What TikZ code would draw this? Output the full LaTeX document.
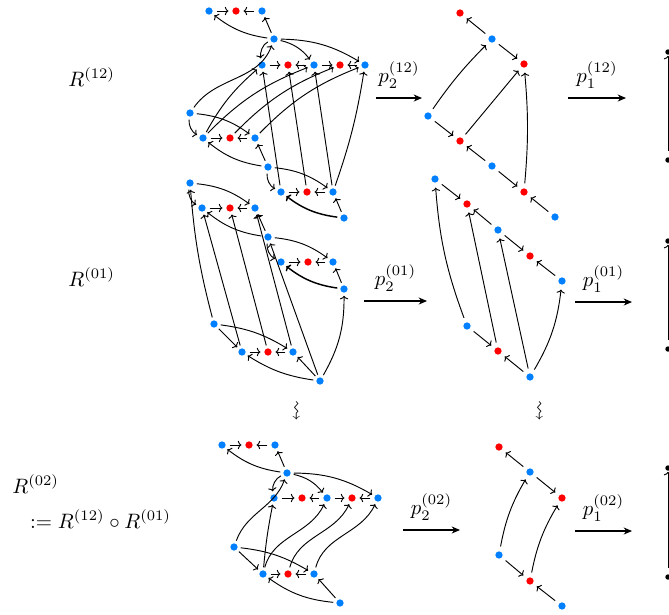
\documentclass[tikz,border=0pt]{standalone}
\usepackage{amsmath,amssymb}
\usetikzlibrary{arrows.meta}
\definecolor{myblue}{RGB}{0,128,255}
\definecolor{myred}{RGB}{255,0,0}
\tikzset{
 bv/.style={circle,fill=myblue,inner sep=0pt,minimum size=3.5pt},
 rv/.style={circle,fill=myred,inner sep=0pt,minimum size=3.5pt},
 kv/.style={circle,fill=black,inner sep=0pt,minimum size=2.6pt},
 ar/.style={-{To[length=1.7pt,width=4pt]}, line width=0.45pt, shorten >=1.3pt, shorten <=1.3pt},
 rar/.style={ar, shorten >=1.7pt, shorten <=1.7pt},
 dar/.style={ar, shorten >=2.2pt, shorten <=2.2pt},
 par/.style={-{Stealth[length=4pt,width=3.4pt]}, line width=0.5pt},
 lab/.style={inner sep=0pt, anchor=base west},
}
\begin{document}
\begin{tikzpicture}[x=0.48pt,y=-0.48pt]
\useasboundingbox (0,0) rectangle (669,614);
% ---------- R12 left ----------
\node[bv] (A1) at (209,11) {};
\node[rv] (A2) at (236,11) {};
\node[bv] (A3) at (262,11) {};
\node[bv] (B) at (274,39) {};
\node[bv] (C1) at (262,65) {};
\node[rv] (C2) at (288,65) {};
\node[bv] (C3) at (314,65) {};
\node[rv] (C4) at (340,65) {};
\node[bv] (C5) at (365,65) {};
\node[bv] (D) at (190,113) {};
\node[bv] (E1) at (203,138) {};
\node[rv] (E2) at (230,138) {};
\node[bv] (E3) at (255,138) {};
\node[bv] (F) at (268,167) {};
\node[bv] (G1) at (281,192) {};
\node[rv] (G2) at (307,192) {};
\node[bv] (G3) at (333,192) {};
\node[bv] (H) at (344,218) {};
\draw[rar] (A1)--(A2);
\draw[rar] (A3)--(A2);
\draw[ar] (B) to[bend left=15] (A1);
\draw[ar] (B)--(A3);
\draw[ar] (B) to[out=205,in=100] (C1);
\draw[ar] (D) to[out=55,in=250] (B);
\draw[ar] (B) to[bend left=20] (C3);
\draw[ar] (B) to[bend left=15] (C5);
\draw[rar] (C1)--(C2);
\draw[rar] (C3)--(C2);
\draw[rar] (C3)--(C4);
\draw[rar] (C5)--(C4);
\draw[ar] (D) to[bend right=35] (E1);
\draw[ar] (D) to[bend left=15] (E3);
\draw[rar] (E1)--(E2);
\draw[rar] (E3)--(E2);
\draw[ar] (F)--(E3);
\draw[ar] (F) to[bend left=15] (E1);
\draw[ar] (F) to[bend right=35] (G1);
\draw[ar] (F) to[bend left=15] (G3);
\draw[rar] (G1)--(G2);
\draw[rar] (G3)--(G2);
\draw[ar] (H)--(G3);
\draw[ar,line width=0.7pt] (H) to[bend left=15] (G1);
\draw[ar] (E1) to[bend left=10] (C1);
\draw[ar] (E1) to[bend left=12] (C3);
\draw[ar] (E2) to[bend left=12] (C4);
\draw[ar] (E3) to[bend left=12] (C5);
\draw[ar] (G1)--(C1);
\draw[ar] (G2)--(C2);
\draw[ar] (G3)--(C3);
\draw[ar] (G3) to[bend right=5] (C5);
% ---------- R12 middle ----------
\node[rv] (m1) at (460,13) {};
\node[bv] (m2) at (492,39) {};
\node[rv] (m3) at (524,64) {};
\node[bv] (m4) at (428,116) {};
\node[rv] (m5) at (460,141) {};
\node[bv] (m6) at (492,166) {};
\node[rv] (m7) at (524,192) {};
\node[bv] (m8) at (555,217) {};
\draw[dar] (m2)--(m1);
\draw[dar] (m2)--(m3);
\draw[dar] (m4) to[bend left=5] (m2);
\draw[dar] (m4)--(m5);
\draw[dar] (m5)--(m3);
\draw[dar] (m6)--(m5);
\draw[dar] (m6)--(m7);
\draw[dar] (m7) to[bend right=5] (m3);
\draw[dar] (m8)--(m7);
% ---------- R01 left ----------
\node[bv] (P) at (190,183) {};
\node[bv] (Q1) at (202,208) {};
\node[rv] (Q2) at (230,208) {};
\node[bv] (Q3) at (255,208) {};
\node[bv] (S) at (268,237) {};
\node[bv] (T1) at (281,262) {};
\node[rv] (T2) at (308,262) {};
\node[bv] (T3) at (333,262) {};
\node[bv] (U) at (344,289) {};
\node[bv] (V) at (214,324) {};
\node[bv] (W1) at (242,352) {};
\node[rv] (W2) at (268,352) {};
\node[bv] (W3) at (293,352) {};
\node[bv] (X) at (320,381) {};
\draw[ar] (P) to[bend right=35] (Q1);
\draw[ar] (P) to[bend left=15] (Q3);
\draw[rar] (Q1)--(Q2);
\draw[rar] (Q3)--(Q2);
\draw[ar] (S)--(Q3);
\draw[ar] (S) to[bend left=15] (Q1);
\draw[ar] (S) to[bend right=35] (T1);
\draw[ar] (S) to[bend left=15] (T3);
\draw[rar] (T1)--(T2);
\draw[rar] (T3)--(T2);
\draw[ar] (U)--(T3);
\draw[ar,line width=0.7pt] (U) to[bend left=15] (T1);
\draw[ar] (V)--(W1);
\draw[ar] (V) to[bend left=12] (W3);
\draw[rar] (W1)--(W2);
\draw[rar] (W3)--(W2);
\draw[ar] (X)--(W3);
\draw[ar] (X) to[bend left=12] (W1);
\draw[ar] (X) to[bend right=15] (U);
\draw[ar] (V) to[bend left=5] (P);
\draw[ar] (W1)--(Q1);
\draw[ar] (W2)--(Q2);
\draw[ar] (W3)--(Q3);
\draw[ar] (X)--(S);
% ---------- R01 middle ----------
\node[bv] (n1) at (435,179) {};
\node[rv] (n2) at (467,204) {};
\node[bv] (n3) at (498,230) {};
\node[rv] (n4) at (530,256) {};
\node[bv] (n5) at (562,281) {};
\node[bv] (n6) at (467,326) {};
\node[rv] (n7) at (498,351) {};
\node[bv] (n8) at (530,377) {};
\draw[dar] (n1)--(n2);
\draw[dar] (n3)--(n2);
\draw[dar] (n3)--(n4);
\draw[dar] (n5)--(n4);
\draw[dar] (n6)--(n7);
\draw[dar] (n8)--(n7);
\draw[dar] (n6) to[bend left=8] (n1);
\draw[dar] (n7)--(n2);
\draw[dar] (n8)--(n3);
\draw[dar] (n8) to[bend right=12] (n5);
% ---------- R02 left ----------
\node[bv] (a1) at (222,445) {};
\node[rv] (a2) at (249,445) {};
\node[bv] (a3) at (275,445) {};
\node[bv] (b) at (287,473) {};
\node[bv] (c1) at (274,498) {};
\node[rv] (c2) at (302,498) {};
\node[bv] (c3) at (327,498) {};
\node[rv] (c4) at (352,498) {};
\node[bv] (c5) at (378,498) {};
\node[bv] (d) at (234,547) {};
\node[bv] (e1) at (263,574) {};
\node[rv] (e2) at (288,574) {};
\node[bv] (e3) at (314,574) {};
\node[bv] (h) at (340,603) {};
\draw[rar] (a1)--(a2);
\draw[rar] (a3)--(a2);
\draw[ar] (b) to[bend left=15] (a1);
\draw[ar] (b)--(a3);
\draw[ar] (b) to[out=205,in=100] (c1);
\draw[ar] (d) to[out=70,in=250] (b);
\draw[ar] (b) to[bend left=20] (c3);
\draw[ar] (b) to[bend left=15] (c5);
\draw[rar] (c1)--(c2);
\draw[rar] (c3)--(c2);
\draw[rar] (c3)--(c4);
\draw[rar] (c5)--(c4);
\draw[ar] (d)--(e1);
\draw[ar] (d) to[bend left=12] (e3);
\draw[rar] (e1)--(e2);
\draw[rar] (e3)--(e2);
\draw[ar] (h)--(e3);
\draw[ar] (h) to[bend left=15] (e1);
\draw[ar] (e1) to[bend left=3] (c1);
\draw[ar] (e1) to[out=75,in=-115] (c3);
\draw[ar] (e2) to[out=75,in=-115] (c4);
\draw[ar] (e3) to[out=75,in=-115] (c5);
% ---------- R02 middle ----------
\node[rv] (o1) at (499,447) {};
\node[bv] (o2) at (530,472) {};
\node[rv] (o3) at (562,498) {};
\node[bv] (o4) at (499,555) {};
\node[rv] (o5) at (530,581) {};
\node[bv] (o6) at (562,606) {};
\draw[dar] (o2)--(o1);
\draw[dar] (o2)--(o3);
\draw[dar] (o4) to[bend left=10] (o2);
\draw[dar] (o4)--(o5);
\draw[dar] (o5) to[bend left=10] (o3);
\draw[dar] (o6)--(o5);
% ---------- right column ----------
\node[kv] (k1) at (668,52) {};
\node[kv] (k2) at (668,160) {};
\node[kv] (k3) at (668,241) {};
\node[kv] (k4) at (668,349) {};
\node[kv] (k5) at (668,468) {};
\node[kv] (k6) at (668,577) {};
\draw[ar, shorten >=0.3pt, shorten <=3pt] (k2)--(k1);
\draw[ar, shorten >=0.3pt, shorten <=3pt] (k4)--(k3);
\draw[ar, shorten >=0.3pt, shorten <=3pt] (k6)--(k5);
% ---------- projections ----------
\coordinate (pa1) at (376,98); \coordinate (pa2) at (422,98);
\coordinate (pb1) at (568,98); \coordinate (pb2) at (626,98);
\coordinate (pc1) at (364,301); \coordinate (pc2) at (427,301);
\coordinate (pd1) at (575,302); \coordinate (pd2) at (632,302);
\coordinate (pe1) at (403,530); \coordinate (pe2) at (460,530);
\coordinate (pf1) at (575,531); \coordinate (pf2) at (632,531);
\draw[par] (pa1) -- node[above=1pt] (la) {$p_2^{(12)}$} (pa2);
\draw[par] (pb1) -- node[above=1pt] (lb) {$p_1^{(12)}$} (pb2);
\draw[par] (pc1) -- node[above=1pt] (lc) {$p_2^{(01)}$} (pc2);
\draw[par] (pd1) -- node[above=1pt] (ld) {$p_1^{(01)}$} (pd2);
\draw[par] (pe1) -- node[above=1pt] (le) {$p_2^{(02)}$} (pe2);
\draw[par] (pf1) -- node[above=1pt] (lf) {$p_1^{(02)}$} (pf2);
% ---------- squiggles ----------
\node[rotate=-90] (sq1) at (295,411) {$\rightsquigarrow$};
\node[rotate=-90] (sq2) at (538,411) {$\rightsquigarrow$};
% ---------- labels ----------
\node[lab] (L12) at (68,86) {$R^{(12)}$};
\node[lab] (L01) at (68,286) {$R^{(01)}$};
\node[lab] (L02a) at (12,493) {$R^{(02)}$};
\node[lab] (L02b) at (24,528) {${}:= R^{(12)}\circ R^{(01)}$};
\end{tikzpicture}
\end{document}
